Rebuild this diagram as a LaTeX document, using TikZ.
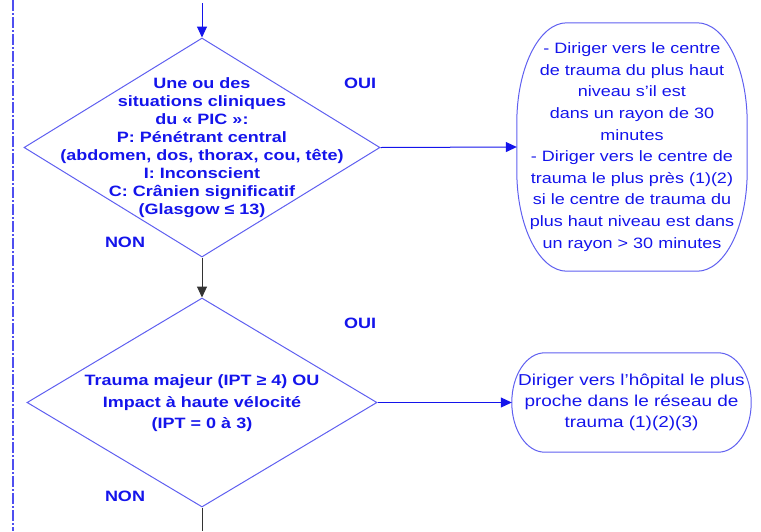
\documentclass[tikz,border=0pt]{standalone}
\usepackage{fontspec}
\setmainfont{Liberation Sans}[FakeStretch=1.2]
\usepackage{tikz}
\usetikzlibrary{arrows.meta, shapes.geometric, positioning}

\definecolor{flowblue}{RGB}{20,20,235}
\definecolor{edgeblue}{RGB}{95,95,240}

\newcommand{\ovalframe}[3]{%
  \draw[frame] ([xshift=#2]#1.north west) -- ([xshift=-#2]#1.north east)
    .. controls ([xshift={-0.448*#2}]#1.north east) and ([yshift={-0.448*#3}]#1.north east)
    .. ([yshift=-#3]#1.north east)
    -- ([yshift=#3]#1.south east)
    .. controls ([yshift={0.448*#3}]#1.south east) and ([xshift={-0.448*#2}]#1.south east)
    .. ([xshift=-#2]#1.south east)
    -- ([xshift=#2]#1.south west)
    .. controls ([xshift={0.448*#2}]#1.south west) and ([yshift={0.448*#3}]#1.south west)
    .. ([yshift=#3]#1.south west)
    -- ([yshift=-#3]#1.north west)
    .. controls ([yshift={-0.448*#3}]#1.north west) and ([xshift={0.448*#2}]#1.north west)
    .. ([xshift=#2]#1.north west) -- cycle;}

\begin{document}
\begin{tikzpicture}[
  x=1pt, y=-1pt,
  >={Triangle[length=11pt, width=10pt]},
  decision/.style={draw=edgeblue, shape=diamond, line width=1pt, inner sep=0pt},
  qtext/.style={text=flowblue, align=center, inner sep=0pt,
    font=\bfseries\fontsize{15}{18}\selectfont},
  outcome/.style={text=flowblue, align=center, inner sep=0pt},
  frame/.style={draw=edgeblue, line width=1pt},
  answer/.style={text=flowblue, inner sep=0pt,
    font=\bfseries\fontsize{15}{18}\selectfont},
  arr/.style={->, line width=1pt, draw=flowblue},
  blackarr/.style={->, line width=1pt, draw=black!80},
  margin/.style={draw=flowblue!75, line width=1.2pt,
    dash pattern=on 11pt off 2pt on 2pt off 2pt}
]
  \useasboundingbox (0,0) rectangle (761,531);

  \coordinate (margtop) at (13,0);
  \coordinate (margbot) at (13,531);
  \draw[margin] (margtop) -- (margbot);

  \coordinate (entry) at (202,3);
  \node[decision, minimum width=356pt, minimum height=219pt] (pic) at (202,147.5) {};
  \node[qtext] (pictext) at (pic) {Une ou des\\situations cliniques\\du « PIC »:\\
    P: Pénétrant central\\(abdomen, dos, thorax, cou, tête)\\I: Inconscient\\
    C: Crânien significatif\\(Glasgow ≤ 13)};
  \node[outcome, minimum width=230pt, minimum height=248pt,
    font=\fontsize{15}{21.6}\selectfont] (centre) at (632,147)
    {- Diriger vers le centre\\de trauma du plus haut\\niveau s’il est\\
    dans un rayon de 30\\minutes\\- Diriger vers le centre de\\
    trauma le plus près (1)(2)\\si le centre de trauma du\\
    plus haut niveau est dans\\un rayon > 30 minutes};
  \ovalframe{centre}{50pt}{100pt}

  \node[decision, minimum width=350pt, minimum height=209pt] (ipt) at (202,402.5) {};
  \node[qtext, font=\bfseries\fontsize{15}{21.5}\selectfont] (ipttext)
    at ([yshift=-1pt]ipt) {Trauma majeur (IPT ≥ 4) OU\\Impact à haute vélocité\\
    (IPT = 0 à 3)};
  \node[outcome, minimum width=239pt, minimum height=99pt,
    font=\fontsize{15.8}{21}\selectfont] (hopital) at (631.5,402.5)
    {Diriger vers l'hôpital le plus\\proche dans le réseau de\\trauma (1)(2)(3)};
  \ovalframe{hopital}{33pt}{49.5pt}

  \coordinate (exit) at (202,531);

  \node[answer] (oui1) at (360,83) {OUI};
  \node[answer] (non1) at (125,242) {NON};
  \node[answer] (oui2) at (360,323) {OUI};
  \node[answer] (non2) at (125,496) {NON};

  \draw[arr] (entry) -- (pic.north);
  \draw[arr] (pic.east) -- (centre.west);
  \draw[blackarr] (pic.south) -- (ipt.north);
  \draw[arr] (ipt.east) -- (hopital.west);
  \draw[blackarr, -] (ipt.south) -- (exit);
\end{tikzpicture}
\end{document}
